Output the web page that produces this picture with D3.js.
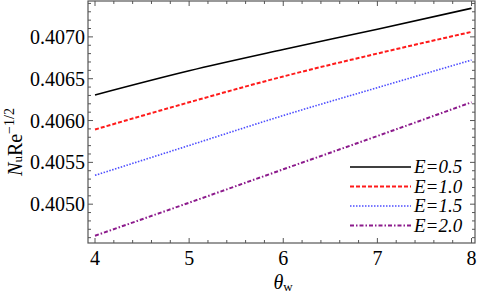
<!DOCTYPE html>
<html>
<head>
<meta charset="utf-8">
<script src="https://cdn.jsdelivr.net/npm/d3@7"></script>
<style>
  body { margin: 0; background: #fff; }
  svg { display: block; }
</style>
</head>
<body>
<div id="chart"></div>
<script>
// waarden
var thetaW = [4, 5, 6, 7, 8];
var seriesE05 = [0.406306, 0.406595, 0.406849, 0.407092, 0.407342];
var seriesE10 = [0.405893, 0.406218, 0.406527, 0.406801, 0.407060];
var seriesE15 = [0.405345, 0.405702, 0.406060, 0.406393, 0.406723];
var seriesE20 = [0.404623, 0.405018, 0.405417, 0.405815, 0.406218];
var legendLabels = ['0.5', '1.0', '1.5', '2.0'];
var xTicks = [4, 5, 6, 7, 8];
var yTicks = [0.4050, 0.4055, 0.4060, 0.4065, 0.4070];

var serif = "'Liberation Serif', 'Times New Roman', 'DejaVu Serif', serif";

var width = 480, height = 296;
var margin = {top: 1, right: 5, bottom: 53, left: 88};
var plotW = width - margin.left - margin.right;
var plotH = height - margin.top - margin.bottom;

var svg = d3.select('#chart').append('svg')
  .attr('width', width)
  .attr('height', height)
  .attr('font-family', serif);

var g = svg.append('g')
  .attr('transform', 'translate(' + margin.left + ',' + margin.top + ')');

var xScale = d3.scaleLinear().domain([3.9256, 8.037]).range([0, plotW]);
var yScale = d3.scaleLinear().domain([0.404536, 0.407429]).range([plotH, 0]);

var frameColor = '#555';

// frame
g.append('rect')
  .attr('x', 0).attr('y', 0)
  .attr('width', plotW).attr('height', plotH)
  .attr('fill', 'none')
  .attr('stroke', frameColor)
  .attr('stroke-width', 1.2);

// kleine en grote ticks
var xMinor = d3.range(40, 81, 2).map(function(d){ return d / 10; });
var yMinor = d3.range(4046, 4075).map(function(d){ return d / 10000; });

function isMajorX(v){ return Math.abs(v - Math.round(v)) < 1e-6; }
function isMajorY(v){ return Math.abs(v * 2000 - Math.round(v * 2000)) < 1e-6; }

var ticks = g.append('g').attr('stroke', frameColor).attr('stroke-width', 1);

xMinor.forEach(function(v){
  var len = isMajorX(v) ? 5 : 3;
  var x = xScale(v);
  ticks.append('line').attr('x1', x).attr('x2', x).attr('y1', plotH).attr('y2', plotH - len);
  ticks.append('line').attr('x1', x).attr('x2', x).attr('y1', 0).attr('y2', len);
});

yMinor.forEach(function(v){
  var len = isMajorY(v) ? 5 : 3;
  var y = yScale(v);
  if (y < 0.5 || y > plotH - 0.5) return;
  ticks.append('line').attr('x1', 0).attr('x2', len).attr('y1', y).attr('y2', y);
  ticks.append('line').attr('x1', plotW).attr('x2', plotW - len).attr('y1', y).attr('y2', y);
});

// tick labels
g.selectAll('.xlabel')
  .data(xTicks)
  .enter().append('text')
  .attr('class', 'xlabel')
  .attr('x', function(d){ return xScale(d); })
  .attr('y', plotH + 22)
  .attr('text-anchor', 'middle')
  .attr('font-size', 20)
  .text(function(d){ return d; });

g.selectAll('.ylabel')
  .data(yTicks)
  .enter().append('text')
  .attr('class', 'ylabel')
  .attr('x', -3)
  .attr('y', function(d){ return yScale(d) + 7; })
  .attr('text-anchor', 'end')
  .attr('font-size', 20)
  .text(function(d){ return d.toFixed(4); });

// as titels
var xTitle = svg.append('text')
  .attr('x', 283)
  .attr('y', 289)
  .attr('text-anchor', 'middle')
  .attr('font-size', 20);
xTitle.append('tspan').attr('font-style', 'italic').text('θ');
xTitle.append('tspan').attr('font-size', 13).attr('dy', 2).text('w');

var yTitle = svg.append('text')
  .attr('transform', 'translate(22,142) rotate(-90)')
  .attr('text-anchor', 'middle')
  .attr('font-size', 20);
yTitle.append('tspan').attr('font-style', 'italic').text('N');
yTitle.append('tspan').attr('font-size', 13).text('u');
yTitle.append('tspan').text('Re');
yTitle.append('tspan').attr('font-size', 14).attr('dy', -8).text('−1/2');

// lijnen
var series = [
  {label: legendLabels[0], values: seriesE05, color: '#000000', dash: null, width: 1.6},
  {label: legendLabels[1], values: seriesE10, color: '#ff1a1a', dash: '4,2', width: 2},
  {label: legendLabels[2], values: seriesE15, color: '#4d4dff', dash: '1.5,1.5', width: 1.6},
  {label: legendLabels[3], values: seriesE20, color: '#8c1a8c', dash: '4,2,1.5,2', width: 2}
];

var line = d3.line()
  .x(function(d){ return xScale(d[0]); })
  .y(function(d){ return yScale(d[1]); })
  .curve(d3.curveMonotoneX);

series.forEach(function(s){
  g.append('path')
    .datum(thetaW.map(function(t, i){ return [t, s.values[i]]; }))
    .attr('d', line)
    .attr('fill', 'none')
    .attr('stroke', s.color)
    .attr('stroke-width', s.width)
    .attr('stroke-dasharray', s.dash);
});

// legenda
var legend = svg.append('g').attr('transform', 'translate(350,167)');
series.forEach(function(s, i){
  var row = legend.append('g').attr('transform', 'translate(0,' + (i * 19.5) + ')');
  row.append('line')
    .attr('x1', 0).attr('x2', 61)
    .attr('y1', 0).attr('y2', 0)
    .attr('stroke', s.color)
    .attr('stroke-width', s.width)
    .attr('stroke-dasharray', s.dash);
  row.append('text')
    .attr('x', 64)
    .attr('y', 6)
    .attr('font-size', 19)
    .attr('font-style', 'italic')
    .text('E=' + s.label);
});
</script>
</body>
</html>
